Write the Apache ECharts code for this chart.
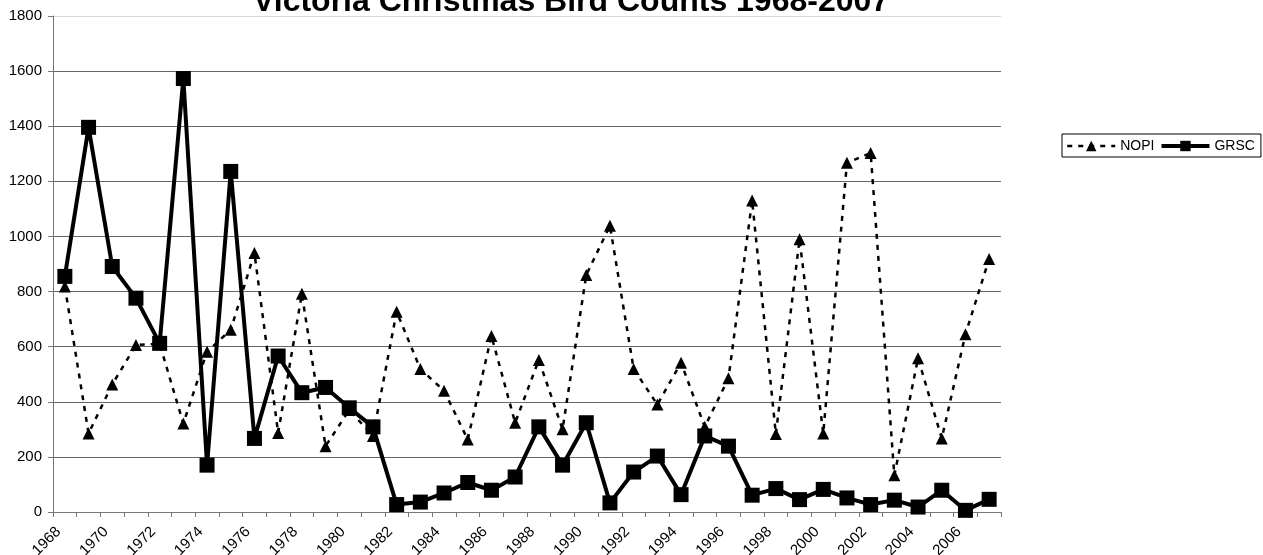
<!DOCTYPE html>
<html>
<head>
<meta charset="utf-8">
<script src="https://cdn.jsdelivr.net/npm/echarts@6/dist/echarts.min.js"></script>
<style>html,body{margin:0;padding:0;background:#fff;}#c{width:1263px;height:555px;}</style>
</head>
<body>
<div id="c"></div>
<script>
const years = [];
for (let y = 1968; y <= 2007; y++) years.push(String(y));
const nopi = [818, 285, 463, 606, 610, 321, 582, 661, 940, 287, 792, 239, 370, 276, 727, 519, 440, 263, 639, 324, 552, 300, 860, 1039, 519, 390, 542, 309, 485, 1130, 283, 990, 285, 1267, 1303, 133, 558, 267, 645, 918];
const grsc = [855, 1396, 891, 776, 612, 1573, 170, 1236, 267, 566, 433, 452, 378, 309, 27, 36, 69, 107, 79, 127, 309, 170, 324, 33, 145, 203, 63, 276, 239, 61, 85, 45, 82, 51, 27, 43, 18, 79, 6, 46];
const yTicks = { min: 0, max: 1800, interval: 200 };
const titleText = 'Victoria Christmas Bird Counts 1968-2007';

const chart = echarts.init(document.getElementById('c'), null, { renderer: 'canvas' });
chart.setOption({
  animation: false,
  backgroundColor: '#fff',
  title: {
    text: titleText,
    left: 253,
    top: -14,
    padding: 0,
    textStyle: { fontFamily: 'Liberation Sans', fontSize: 32, fontWeight: 'bold', color: '#000' }
  },
  legend: {
    left: 1062,
    top: 134,
    orient: 'horizontal',
    padding: [5, 6, 4, 4],
    itemGap: 5,
    itemWidth: 48,
    itemHeight: 13,
    borderColor: '#000',
    borderWidth: 1,
    textStyle: { fontFamily: 'Liberation Sans', fontSize: 14, color: '#000' },
    data: [
      { name: 'NOPI', lineStyle: { width: 2.5 } },
      { name: 'GRSC', lineStyle: { width: 4 } }
    ]
  },
  grid: { left: 53, right: 262, top: 16, bottom: 43, containLabel: false, outerBoundsMode: 'none' },
  xAxis: {
    type: 'category',
    data: years,
    boundaryGap: true,
    axisLine: { lineStyle: { color: '#777', width: 1 } },
    axisTick: { show: true, interval: 0, length: 5, lineStyle: { color: '#777' } },
    axisLabel: { interval: 1, rotate: 45, margin: 11, padding: [0, 9, 0, 0], fontFamily: 'Liberation Sans', fontSize: 15, color: '#000' },
    splitLine: { show: false }
  },
  yAxis: {
    type: 'value',
    min: yTicks.min,
    max: yTicks.max,
    interval: yTicks.interval,
    axisLine: { show: true, lineStyle: { color: '#777', width: 1 } },
    axisTick: { show: true, length: 5, lineStyle: { color: '#777' } },
    axisLabel: { margin: 11, fontFamily: 'Liberation Sans', fontSize: 15, color: '#000', formatter: function (v) { return String(v); } },
    splitLine: { show: true, lineStyle: { color: ['#666','#666','#666','#666','#666','#666','#666','#666','#666','#d9d9d9'], width: 1 } }
  },
  series: [
    {
      name: 'NOPI',
      type: 'line',
      data: nopi,
      symbol: 'triangle',
      symbolSize: 12,
      itemStyle: { color: '#000' },
      lineStyle: { color: '#000', width: 2.5, type: [5, 6] },
      z: 2
    },
    {
      name: 'GRSC',
      type: 'line',
      data: grsc,
      symbol: 'rect',
      symbolSize: 15,
      itemStyle: { color: '#000' },
      lineStyle: { color: '#000', width: 4, type: 'solid' },
      z: 3
    }
  ]
});
</script>
</body>
</html>
